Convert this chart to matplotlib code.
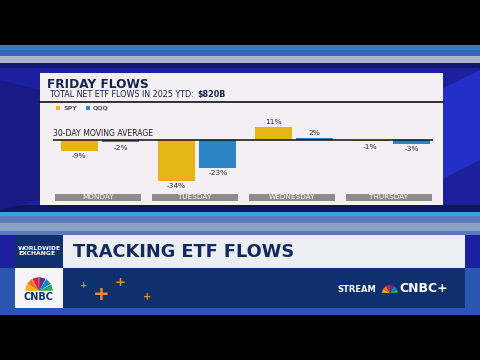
import matplotlib
matplotlib.use("Agg")
import matplotlib.pyplot as plt
from matplotlib.patches import Rectangle, Polygon
import numpy as np

days = ["MONDAY", "TUESDAY", "WEDNESDAY", "THURSDAY"]
spy = [-9, -34, 11, -1]
qqq = [-2, -23, 2, -3]
spy_labels = ["-9%", "-34%", "11%", "-1%"]
qqq_labels = ["-2%", "-23%", "2%", "-3%"]
title = "FRIDAY FLOWS"
subtitle = "TOTAL NET ETF FLOWS IN 2025 YTD:"
subtitle_bold = r"\$820B"

W, H = 480, 360
fig = plt.figure(figsize=(4.8, 3.6), dpi=100)
bg = fig.add_axes([0, 0, 1, 1])
bg.set_xlim(0, W)
bg.set_ylim(H, 0)
bg.axis("off")

def rect(x0, y0, x1, y1, color, z=1, **kw):
    bg.add_patch(Rectangle((x0, y0), x1 - x0, y1 - y0, color=color, zorder=z, lw=0, **kw))

F = "DejaVu Sans"
NAVY = "#14234f"

# scene background
rect(0, 0, W, H, "#000000", 0)
rect(0, 45, W, 315, "#1c1f9e", 0.5)
rect(0, 45, W, 50, "#2f7fd0", 0.6)
rect(0, 50, W, 56, "#3a64b8", 0.6)
rect(0, 56, W, 63, "#aab2cc", 0.6)
rect(0, 63, W, 68, "#12186a", 0.6)
bg.add_patch(Polygon([[440, 90], [480, 70], [480, 160], [440, 180]], color="#2330c8", zorder=0.7, lw=0))
bg.add_patch(Polygon([[0, 80], [40, 90], [40, 200], [0, 210]], color="#181a85", zorder=0.7, lw=0))
rect(0, 205, W, 212, "#0e1560", 0.6)
rect(0, 212, W, 216, "#3aa0e0", 0.6)
rect(0, 216, W, 235, "#5b78b8", 0.6)
rect(0, 223, W, 231, "#8da0c8", 0.62)
rect(0, 268, W, 315, "#2a55b0", 0.6)

# panel
rect(40, 73, 443, 205, "#f4eff2", 1)
bg.plot([40, 443], [102, 102], color="#111111", lw=1.2, zorder=2)

bg.text(47, 84, title, fontsize=8.7, fontweight="bold", family=F,
        color=NAVY, va="center", ha="left", zorder=3)
t = bg.text(49, 94.5, subtitle, fontsize=5.8, family=F,
            color=NAVY, va="center", ha="left", zorder=3)
bg.annotate(subtitle_bold, xycoords=t, xy=(1, 0.5), xytext=(2.4, 0), textcoords="offset points",
            va="center", ha="left", fontsize=5.8, fontweight="bold", family=F, color=NAVY, zorder=3)

# legend
rect(56, 106, 60, 110, "#e8b81c", 3)
bg.text(63, 108, "SPY", fontsize=4.5, fontweight="bold", family=F, color="#555555", va="center", zorder=3)
rect(86, 106, 90, 110, "#2f86c8", 3)
bg.text(93, 108, "QQQ", fontsize=4.5, fontweight="bold", family=F, color="#555555", va="center", zorder=3)

bg.text(53, 133.5, "30-DAY MOVING AVERAGE", fontsize=5.6, family=F,
        color="#222222", va="center", ha="left", zorder=3)

# chart axes (pixel geometry: zero at y=140, 1.2 px per %)
x0px, x1px = 53, 433
ytop, ybot = 115, 192
zero_px, ppp = 140.0, 1.2
ax = fig.add_axes([x0px / W, 1 - ybot / H, (x1px - x0px) / W, (ybot - ytop) / H])
ax.set_xlim((x0px - 100) / 97, (x1px - 100) / 97)
ax.set_ylim(-(ybot - zero_px) / ppp, (zero_px - ytop) / ppp)
ax.axis("off")
ax.patch.set_alpha(0)

x = np.arange(len(days))
off, bw = 0.215, 0.38
b1 = ax.bar(x - off, spy, bw, color="#e6b417", zorder=2)
b2 = ax.bar(x + off, qqq, bw, color="#2c84c6", zorder=2)
ax.axhline(0, color="#111111", lw=1.1, zorder=3)

for bars, labels in ((b1, spy_labels), (b2, qqq_labels)):
    for b, lab in zip(bars, labels):
        h = b.get_height()
        cx = b.get_x() + b.get_width() / 2
        if h >= 0:
            ax.annotate(lab, (cx, h), xytext=(0, 1.5), textcoords="offset points",
                        ha="center", va="bottom", fontsize=5.4, family=F, color="#333333")
        else:
            ax.annotate(lab, (cx, h), xytext=(0, -1.8), textcoords="offset points",
                        ha="center", va="top", fontsize=5.4, family=F, color="#333333")

# day label bars
for i, d in enumerate(days):
    ax.add_patch(Rectangle((i - 0.46, -(193.5 - zero_px) / ppp), 0.88, -7 / ppp,
                           color="#8c8c8c", lw=0, clip_on=False, zorder=2))
    ax.text(i - 0.02, -(197.2 - zero_px) / ppp, d, ha="center", va="center",
            fontsize=5.2, family=F, color="white", clip_on=False, zorder=3)

# lower banner
rect(15, 235, 465, 268, "#eceef2", 3)
rect(15, 268, 465, 308, "#0f2f6e", 3)
rect(15, 235, 63, 268, "#0f2f6e", 3.5)
rect(15, 268, 63, 308, "#f5f5f7", 3.5)
bg.text(18, 251, "WORLDWIDE\nEXCHANGE", fontsize=4.4, fontweight="bold", family=F,
        color="white", va="center", ha="left", linespacing=1.0, zorder=4)
bg.text(73, 252, "TRACKING ETF FLOWS", fontsize=12.8, fontweight="bold", family=F,
        color="#142a5e", va="center", ha="left", zorder=4)
bg.text(39, 297.5, "CNBC", fontsize=7, fontweight="bold", family=F,
        color="#0f2f6e", va="center", ha="center", zorder=4)
peacock = ["#f7b000", "#f36f21", "#e21e36", "#6a2c91", "#0089cf", "#32a949"]
for k, c in enumerate(peacock):
    ang = np.deg2rad(165 - k * 30)
    bg.add_patch(Polygon([[39, 291], [39 + 14 * np.cos(ang - 0.24), 291 - 14 * np.sin(ang - 0.24)],
                          [39 + 14 * np.cos(ang + 0.24), 291 - 14 * np.sin(ang + 0.24)]],
                         color=c, lw=0, zorder=4))
for (px, py, s) in [(101, 294, 9), (120, 283, 6), (84, 285, 4), (147, 297, 4.5)]:
    bg.text(px, py, "+", fontsize=s * 1.6, fontweight="bold", color="#f08a24",
            ha="center", va="center", zorder=4, family="DejaVu Sans")
bg.text(376, 289.5, "STREAM", fontsize=6, fontweight="bold", family=F,
        color="white", va="center", ha="right", zorder=4)
bg.text(399, 289, "CNBC+", fontsize=9, fontweight="bold", family=F,
        color="white", va="center", ha="left", zorder=4)
for k, c in enumerate(peacock):
    ang = np.deg2rad(165 - k * 30)
    bg.add_patch(Polygon([[390, 293], [390 + 8 * np.cos(ang - 0.24), 293 - 8 * np.sin(ang - 0.24)],
                          [390 + 8 * np.cos(ang + 0.24), 293 - 8 * np.sin(ang + 0.24)]],
                         color=c, lw=0, zorder=4))

fig.savefig("out.png", dpi=100)
